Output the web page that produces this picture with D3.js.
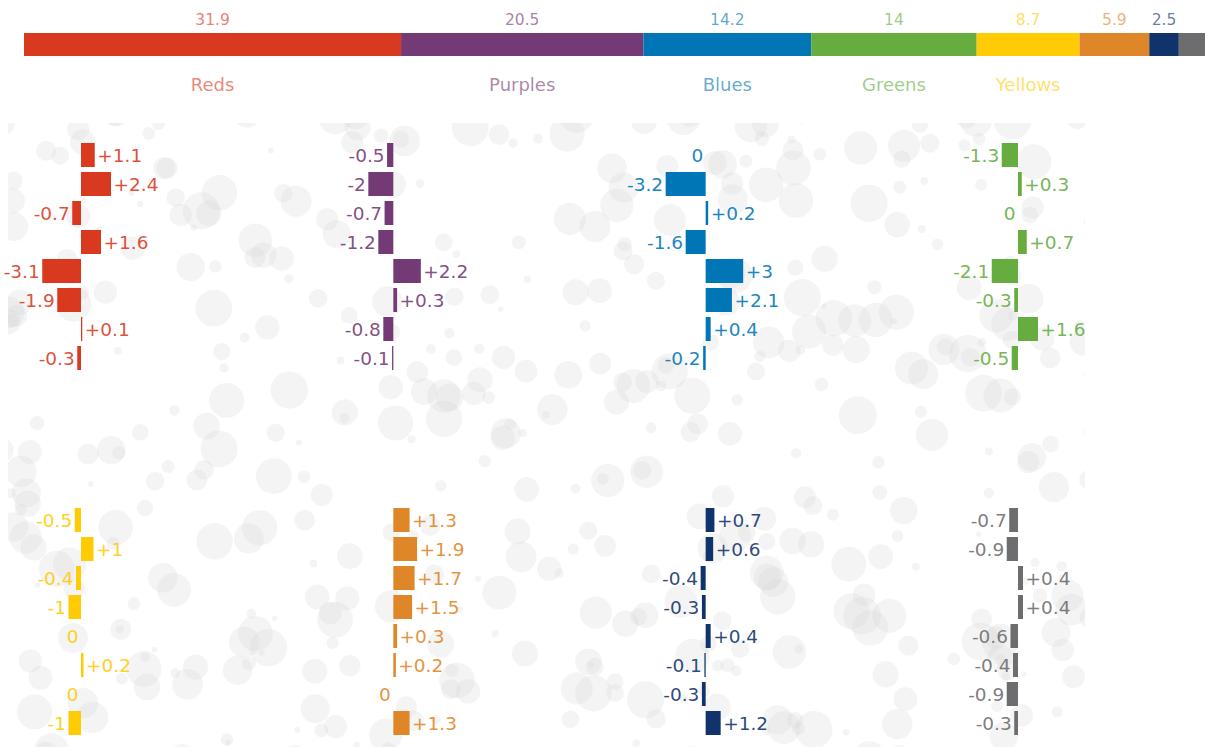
<!DOCTYPE html>
<html><head><meta charset="utf-8">
<script src="https://cdn.jsdelivr.net/npm/d3@7"></script>
<style>
body{margin:0;background:#fff;overflow:hidden}
text{font-family:"DejaVu Sans",sans-serif}
</style>
</head><body>
<svg id="c" width="1205" height="747"></svg>
<script>
// ---- data ----
const groups = ["Reds","Purples","Blues","Greens","Yellows","Oranges","Navies","Greys"];
const shares = [31.9, 20.5, 14.2, 14, 8.7, 5.9, 2.5, 2.3];
const colors = ["#d93a1f","#743a75","#0076b6","#66ac3f","#ffcb05","#df8629","#10336b","#6d6d6f"];
const showName = [true, true, true, true, true, false, false, false];
const showShare = [true, true, true, true, true, true, true, false];
const reds    = [1.1, 2.4, -0.7, 1.6, -3.1, -1.9, 0.1, -0.3];
const purples = [-0.5, -2, -0.7, -1.2, 2.2, 0.3, -0.8, -0.1];
const blues   = [0, -3.2, 0.2, -1.6, 3, 2.1, 0.4, -0.2];
const greens  = [-1.3, 0.3, 0, 0.7, -2.1, -0.3, 1.6, -0.5];
const yellows = [-0.5, 1, -0.4, -1, 0, 0.2, 0, -1];
const oranges = [1.3, 1.9, 1.7, 1.5, 0.3, 0.2, 0, 1.3];
const navies  = [0.7, 0.6, -0.4, -0.3, 0.4, -0.1, -0.3, 1.2];
const greys   = [-0.7, -0.9, 0.4, 0.4, -0.6, -0.4, -0.9, -0.3];
const changes = [reds, purples, blues, greens, yellows, oranges, navies, greys];

const svg = d3.select("#c");

// ---- decorative bubble background (deterministic) ----
let seed = 12345;
function rnd(){ seed = (seed * 1103515245 + 12345) % 2147483648; return seed / 2147483648; }
const bgX0 = 8, bgX1 = 1085, bgY0 = 123, bgY1 = 760;
svg.append("clipPath").attr("id","bgclip").append("rect")
  .attr("x", bgX0).attr("y", bgY0).attr("width", bgX1 - bgX0).attr("height", bgY1 - bgY0);
const bubbles = [];
for (let i = 0; i < 460; i++) {
  const r = rnd() < 0.3 ? 2.5 + rnd() * 5 : 8 + rnd() * 11;
  bubbles.push({x: bgX0 - 10 + rnd() * (bgX1 - bgX0 + 20), y: bgY0 - 10 + rnd() * (bgY1 - bgY0 + 10), r});
}
svg.append("g").attr("clip-path","url(#bgclip)")
  .selectAll("circle").data(bubbles).join("circle")
  .attr("cx", d => d.x).attr("cy", d => d.y).attr("r", d => d.r)
  .attr("fill", "#d6d6d6").attr("fill-opacity", 0.28);

// ---- top stacked share bar ----
const xTop = d3.scaleLinear().domain([0, 100]).range([24, 1206]);
const cum = d3.cumsum([0, ...shares]);
const shareIdx = d3.range(shares.length);
const topG = svg.append("g");
topG.selectAll("rect").data(shareIdx).join("rect")
  .attr("x", i => xTop(cum[i])).attr("y", 33)
  .attr("width", i => xTop(cum[i] + shares[i]) - xTop(cum[i])).attr("height", 23)
  .attr("fill", i => colors[i]);
topG.selectAll("text.share").data(shareIdx.filter(i => showShare[i])).join("text").attr("class","share")
  .attr("x", i => xTop(cum[i] + shares[i] / 2)).attr("y", 25)
  .attr("text-anchor","middle").attr("font-size", 15.5)
  .attr("fill", i => colors[i]).attr("fill-opacity", 0.65)
  .text(i => shares[i]);
topG.selectAll("text.name").data(shareIdx.filter(i => showName[i])).join("text").attr("class","name")
  .attr("x", i => xTop(cum[i] + shares[i] / 2))
  .attr("y", 91).attr("text-anchor","middle").attr("font-size", 18)
  .attr("fill", i => colors[i]).attr("fill-opacity", 0.62)
  .text(i => groups[i]);

// ---- small multiples ----
const colW = 312.33, rowH = 365;
groups.forEach((g, gi) => {
  const col = gi % 4, row = Math.floor(gi / 4);
  const px = 6 + col * colW;
  const x = d3.scaleLinear().domain([-6, 19]).range([px, px + 312.5]);
  const top0 = 140.5 + row * rowH;
  const y = d3.scaleBand().domain(d3.range(8)).range([top0, top0 + 232])
    .paddingInner(5 / 29).paddingOuter(2.5 / 29);
  const vals = changes[gi];
  const pg = svg.append("g");
  pg.selectAll("rect").data(vals).join("rect")
    .attr("x", d => x(Math.min(0, d))).attr("y", (d, i) => y(i))
    .attr("width", d => Math.abs(x(d) - x(0))).attr("height", y.bandwidth())
    .attr("fill", colors[gi]);
  pg.selectAll("text").data(vals).join("text")
    .attr("x", d => d > 0 ? x(d) + 2.5 : x(d) - 2.5)
    .attr("y", (d, i) => y(i) + y.bandwidth() / 2)
    .attr("dy", "0.36em")
    .attr("text-anchor", d => d > 0 ? "start" : "end")
    .attr("font-size", 18.5)
    .attr("fill", colors[gi]).attr("fill-opacity", 0.9)
    .text(d => d > 0 ? "+" + d : String(d));
});
</script>
</body></html>
